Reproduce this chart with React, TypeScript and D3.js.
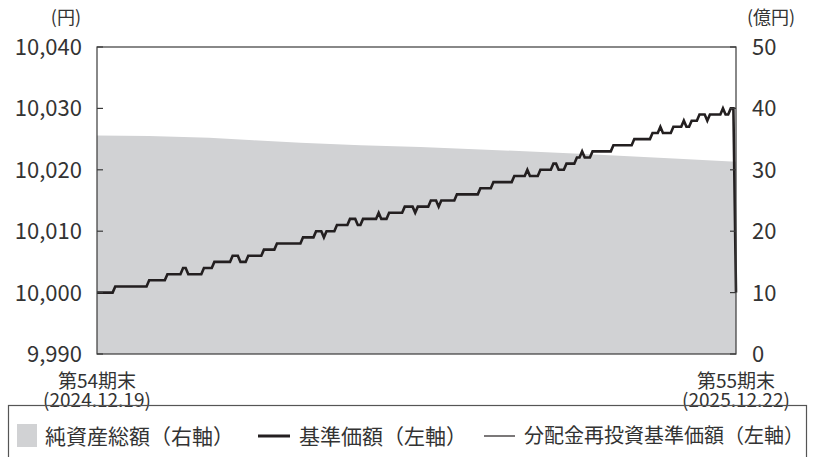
import * as d3 from 'd3';

// 基準価額（円）: 第54期末〜第55期末の日次
const nav: number[] = [
  10000, 10000, 10000, 10000, 10000, 10000, 10000, 10001, 10001, 10001, 10001, 10001, 10001, 10001, 10001, 10001, 10001, 10001, 10001, 10001,
  10002, 10002, 10002, 10002, 10002, 10002, 10002, 10003, 10003, 10003, 10003, 10003, 10003, 10004, 10004, 10003, 10003, 10003, 10003, 10003,
  10003, 10004, 10004, 10004, 10004, 10005, 10005, 10005, 10005, 10005, 10005, 10005, 10006, 10006, 10006, 10005, 10005, 10005, 10006, 10006,
  10006, 10006, 10006, 10006, 10007, 10007, 10007, 10007, 10007, 10008, 10008, 10008, 10008, 10008, 10008, 10008, 10008, 10008, 10008, 10009,
  10009, 10009, 10009, 10009, 10010, 10010, 10010, 10009, 10010, 10010, 10010, 10010, 10011, 10011, 10011, 10011, 10011, 10012, 10012, 10012,
  10011, 10011, 10012, 10012, 10012, 10012, 10012, 10012, 10013, 10012, 10012, 10012, 10013, 10013, 10013, 10013, 10013, 10013, 10014, 10014,
  10014, 10014, 10013, 10014, 10014, 10014, 10014, 10014, 10015, 10015, 10015, 10014, 10015, 10015, 10015, 10015, 10015, 10015, 10016, 10016,
  10016, 10016, 10016, 10016, 10016, 10016, 10016, 10017, 10017, 10017, 10017, 10017, 10018, 10018, 10018, 10018, 10018, 10018, 10018, 10018,
  10019, 10019, 10019, 10019, 10019, 10020, 10019, 10019, 10019, 10019, 10020, 10020, 10020, 10020, 10020, 10021, 10021, 10020, 10020, 10020,
  10021, 10021, 10021, 10021, 10022, 10022, 10023, 10022, 10022, 10022, 10023, 10023, 10023, 10023, 10023, 10023, 10023, 10023, 10024, 10024,
  10024, 10024, 10024, 10024, 10024, 10024, 10025, 10025, 10025, 10025, 10025, 10025, 10025, 10026, 10026, 10026, 10027, 10026, 10026, 10026,
  10026, 10027, 10027, 10027, 10027, 10028, 10027, 10027, 10028, 10028, 10028, 10029, 10029, 10029, 10028, 10029, 10029, 10029, 10029, 10029,
  10030, 10029, 10029, 10030, 10030, 10000,
];

// 分配金再投資基準価額: 期末の分配落ち前の水準で終わる
const reinvestLast = 10030;
const reinvested: number[] = [...nav.slice(0, -1), reinvestLast];

// 純資産総額（億円）: 日次インデックスごとの読み取り値
const assetDays: number[] = [0, 20, 43, 60, 78, 101, 124, 147, 166, 185, 204, 223, 245];
const assetValues: number[] = [35.6, 35.5, 35.2, 34.8, 34.4, 34.0, 33.7, 33.3, 33.0, 32.6, 32.2, 31.8, 31.3];

const leftTicks: number[] = [9990, 10000, 10010, 10020, 10030, 10040];
const rightTicks: number[] = [0, 10, 20, 30, 40, 50];
const periodLabels: string[] = ['第54期末', '第55期末'];
const dateLabels: string[] = ['(2024.12.19)', '(2025.12.22)'];
const legendLabels: string[] = ['純資産総額（右軸）', '基準価額（左軸）', '分配金再投資基準価額（左軸）'];

const W = 814;
const H = 457;
const plot = { left: 97, right: 736, top: 47, bottom: 354 };
const font = '"Noto Sans CJK JP", "Noto Sans", sans-serif';
const ink = '#231f20';

export default function App() {
  const x = d3.scaleLinear().domain([0, nav.length - 1]).range([plot.left, plot.right]);
  const yL = d3.scaleLinear().domain([9990, 10040]).range([plot.bottom, plot.top]);
  const yR = d3.scaleLinear().domain([0, 50]).range([plot.bottom, plot.top]);

  const area = d3.area<number>()
    .x((_, i) => x(assetDays[i]))
    .y0(yR(0))
    .y1(d => yR(d));

  const line = d3.line<number>()
    .x((_, i) => x(i))
    .y(d => yL(d));

  const fmt = d3.format(',');

  return (
    <svg width={W} height={H} style={{ position: 'absolute', left: 0, top: 0, background: '#fff' }} fontFamily={font}>
      <path d={area(assetValues) ?? ''} fill="#d1d2d4" />

      <path d={line(reinvested) ?? ''} fill="none" stroke={ink} strokeWidth={1} />
      <path d={line(nav) ?? ''} fill="none" stroke={ink} strokeWidth={2.6} strokeLinejoin="miter" />

      {/* frame */}
      <rect x={plot.left} y={plot.top} width={plot.right - plot.left} height={plot.bottom - plot.top}
        fill="none" stroke="#3a3a3a" strokeWidth={1.2} />

      {/* left axis */}
      {leftTicks.map(t => (
        <g key={'l' + t}>
          <line x1={plot.left} x2={plot.left + 6} y1={yL(t)} y2={yL(t)} stroke="#3a3a3a" strokeWidth={1.2} />
          <text x={82} y={yL(t)} dy="0.36em" textAnchor="end" fontSize={22} fill="#333">{fmt(t)}</text>
        </g>
      ))}
      <text x={81} y={18} dy="0.36em" textAnchor="end" fontSize={18} fill="#333">(円)</text>

      {/* right axis */}
      {rightTicks.map(t => (
        <g key={'r' + t}>
          <line x1={plot.right - 6} x2={plot.right} y1={yR(t)} y2={yR(t)} stroke="#3a3a3a" strokeWidth={1.2} />
          <text x={752} y={yR(t)} dy="0.36em" textAnchor="start" fontSize={22} fill="#333">{t}</text>
        </g>
      ))}
      <text x={747} y={18} dy="0.36em" textAnchor="start" fontSize={18} fill="#333">(億円)</text>

      {/* x labels: 期末名と日付を2行で */}
      {[0, nav.length - 1].map((d, i) => (
        <text key={'x' + d} y={388} textAnchor="middle" fontSize={19} fill="#333">
          <tspan x={x(d)}>{periodLabels[i]}</tspan>
          <tspan x={x(d)} dy={19}>{dateLabels[i]}</tspan>
        </text>
      ))}

      {/* legend */}
      <rect x={8.5} y={405.5} width={798} height={70} fill="none" stroke="#555" strokeWidth={1.2} />
      <rect x={17} y={424} width={20} height={23} fill="#d1d2d4" />
      <text x={45} y={436} dy="0.36em" fontSize={21} fill="#333">{legendLabels[0]}</text>
      <line x1={258} x2={290} y1={436} y2={436} stroke={ink} strokeWidth={3} />
      <text x={299} y={436} dy="0.36em" fontSize={21} fill="#333">{legendLabels[1]}</text>
      <line x1={484} x2={515} y1={436} y2={436} stroke={ink} strokeWidth={1.2} />
      <text x={524} y={436} dy="0.36em" fontSize={20} fill="#333">{legendLabels[2]}</text>
    </svg>
  );
}
